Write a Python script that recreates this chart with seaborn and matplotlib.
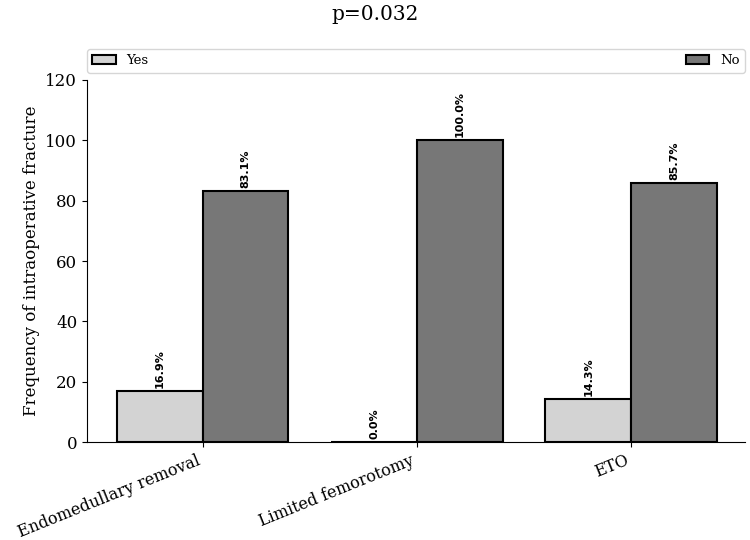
import matplotlib
matplotlib.use("Agg")
import matplotlib.pyplot as plt
import pandas as pd
import seaborn as sns

categories = ["Endomedullary removal", "Limited femorotomy", "ETO"]
yes_pct = [16.9, 0.0, 14.3]
no_pct = [83.1, 100.0, 85.7]
hue_names = ["Yes", "No"]
colors = ["#d3d3d3", "#777777"]

df = pd.DataFrame({
    "Approach": categories * 2,
    "Fracture": ["Yes"] * 3 + ["No"] * 3,
    "Pct": yes_pct + no_pct,
})

sns.set_style("ticks")
plt.rcParams["font.family"] = ["DejaVu Serif"]
plt.rcParams["text.color"] = "black"
plt.rcParams["axes.labelcolor"] = "black"
plt.rcParams["xtick.color"] = "black"
plt.rcParams["ytick.color"] = "black"
plt.rcParams["axes.edgecolor"] = "black"

fig = plt.figure(figsize=(7.5, 5.4), dpi=100)
ax = fig.add_axes([0.116, 0.181, 0.877, 0.671])

sns.barplot(data=df, x="Approach", y="Pct", hue="Fracture", hue_order=hue_names,
            palette=colors, edgecolor="black", linewidth=1.5, width=0.8,
            saturation=1, ax=ax)

for p in ax.patches:
    h = p.get_height()
    if p.get_width() == 0:
        continue
    ax.text(p.get_x() + p.get_width() / 2, h + 1, f"{h:.1f}%", rotation=90,
            ha="center", va="bottom", fontsize=8, fontweight="bold",
            family="DejaVu Sans")

ax.set_ylim(0, 120)
ax.set_xlim(-0.54, 2.53)
ax.set_yticks(range(0, 121, 20))
ax.set_xlabel("")
ax.set_ylabel("Frequency of intraoperative fracture", fontsize=12)
ax.tick_params(axis="y", labelsize=12)
ax.tick_params(axis="x", labelsize=11.5)
plt.setp(ax.get_xticklabels(), rotation=22, ha="right", rotation_mode="default")
sns.despine(ax=ax)

ax.legend(bbox_to_anchor=(0, 1.02, 1, 0.06), loc="lower left", mode="expand",
          ncol=2, borderaxespad=0, fontsize=9.5, frameon=True, handlelength=1.8)
fig.suptitle("p=0.032", fontsize=14.5, y=0.99)

fig.savefig("out.png", dpi=100)
